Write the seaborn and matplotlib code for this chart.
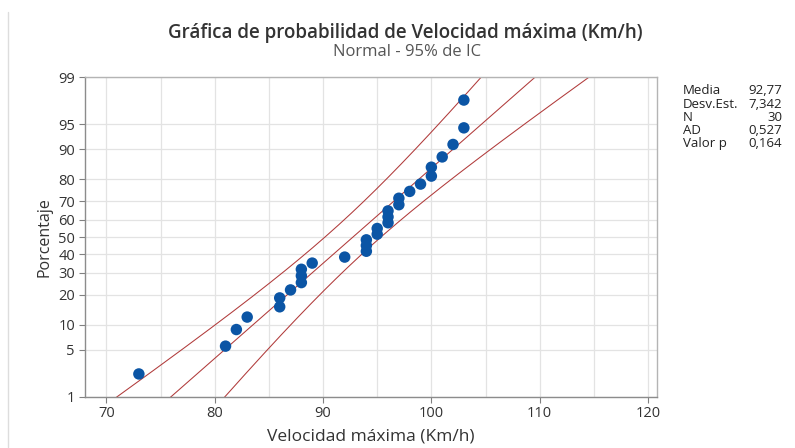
import numpy as np
import pandas as pd
import matplotlib
matplotlib.use("Agg")
import matplotlib.pyplot as plt
from matplotlib.lines import Line2D
import seaborn as sns
from statistics import NormalDist

# Maximum speed observations (Km/h)
velocidad = [73, 81, 82, 83, 86, 86, 87, 88, 88, 88, 89, 92, 94, 94, 94,
             95, 95, 96, 96, 96, 97, 97, 98, 99, 100, 100, 101, 102, 103, 103]
y_ticks_pct = [1, 5, 10, 20, 30, 40, 50, 60, 70, 80, 90, 95, 99]
x_ticks = [70, 80, 90, 100, 110, 120]
ad_stat = "0,527"
p_value = "0,164"

nd = NormalDist()
x = np.sort(np.array(velocidad, dtype=float))
n = len(x)
mean = x.mean()
sd = x.std(ddof=1)
sigma_mle = x.std(ddof=0)

# Median-rank plotting positions on the normal-probability scale
ranks = np.arange(1, n + 1)
pp = (ranks - 0.3) / (n + 0.4)
z_pts = np.array([nd.inv_cdf(p) for p in pp])
df = pd.DataFrame({"x": x, "z": z_pts})

# Fitted line and 95% confidence bands for the percentiles
z_lo, z_hi = nd.inv_cdf(0.01), nd.inv_cdf(0.99)
zz = np.linspace(z_lo - 0.05, z_hi + 0.05, 200)
fit = mean + zz * sigma_mle
half = 1.959964 * sigma_mle * np.sqrt(1.0 / n + zz ** 2 / (2.0 * n))
lines = pd.DataFrame({"z": zz, "fit": fit, "lo": fit - half, "hi": fit + half})

sns.set_theme(style="white")
plt.rcParams["font.family"] = ["Open Sans", "DejaVu Sans"]

fig = plt.figure(figsize=(7.95, 4.48), dpi=100)
ax = fig.add_axes([84.7 / 795, 1 - 396.7 / 448, (656.7 - 84.7) / 795, (396.7 - 77.3) / 448])

line_col = "#B03A3A"
for col in ["fit", "lo", "hi"]:
    sns.lineplot(data=lines, x=col, y="z", sort=False, color=line_col,
                 linewidth=0.75, ax=ax, estimator=None)
sns.scatterplot(data=df, x="x", y="z", color="#0B55A5", s=68,
                edgecolor="none", ax=ax, zorder=5)

ax.set_xlim(68, 120.8)
ax.set_ylim(z_lo, z_hi)
ax.set_xticks(x_ticks)
ax.set_xticks(np.arange(75, 121, 10), minor=True)
ax.set_yticks([nd.inv_cdf(p / 100) for p in y_ticks_pct])
ax.set_yticklabels([str(p) for p in y_ticks_pct])
ax.grid(True, which="both", color="#E3E3E3", linewidth=0.9)
ax.set_axisbelow(True)

ax.tick_params(axis="both", which="major", direction="out", length=4, width=0.8,
               color="#808080", labelsize=10.5, labelcolor="#333333", pad=3,
               bottom=True, left=True)
ax.tick_params(axis="x", which="minor", length=0)

for side in ["left", "bottom"]:
    ax.spines[side].set_color("#8C8C8C")
    ax.spines[side].set_linewidth(1.0)
for side in ["top", "right"]:
    ax.spines[side].set_color("#B4B4B4")
    ax.spines[side].set_linewidth(1.0)

ax.set_xlabel("Velocidad máxima (Km/h)", fontsize=12.5, color="#333333", labelpad=5)
ax.set_ylabel("Porcentaje", fontsize=11.5, color="#333333", labelpad=4)

fig.text(0.5095, 1 - 33 / 448, "Gráfica de probabilidad de Velocidad máxima (Km/h)",
         ha="center", va="center", fontsize=13.5, fontweight="semibold", color="#333333")
fig.text(0.5115, 1 - 52 / 448, "Normal - 95% de IC",
         ha="center", va="center", fontsize=12, color="#555555")

# Summary statistics beside the plot
labels = ["Media", "Desv.Est.", "N", "AD", "Valor p"]
values = [f"{mean:.2f}".replace(".", ","), f"{sd:.3f}".replace(".", ","),
          str(n), ad_stat, p_value]
for i, (lab, val) in enumerate(zip(labels, values)):
    yy = 1 - (91 + i * 13.2) / 448
    fig.text(683 / 795, yy, lab, ha="left", va="center", fontsize=9.5, color="#222222")
    fig.text(782 / 795, yy, val, ha="right", va="center", fontsize=9.5, color="#222222")

# Thin frame line at the left edge of the graph window
fig.add_artist(Line2D([7.5 / 795, 7.5 / 795], [1 - 447 / 448, 1 - 12 / 448],
                      transform=fig.transFigure, color="#DDDDDD", linewidth=1.0))

fig.savefig("out.png", dpi=100, facecolor="white")
